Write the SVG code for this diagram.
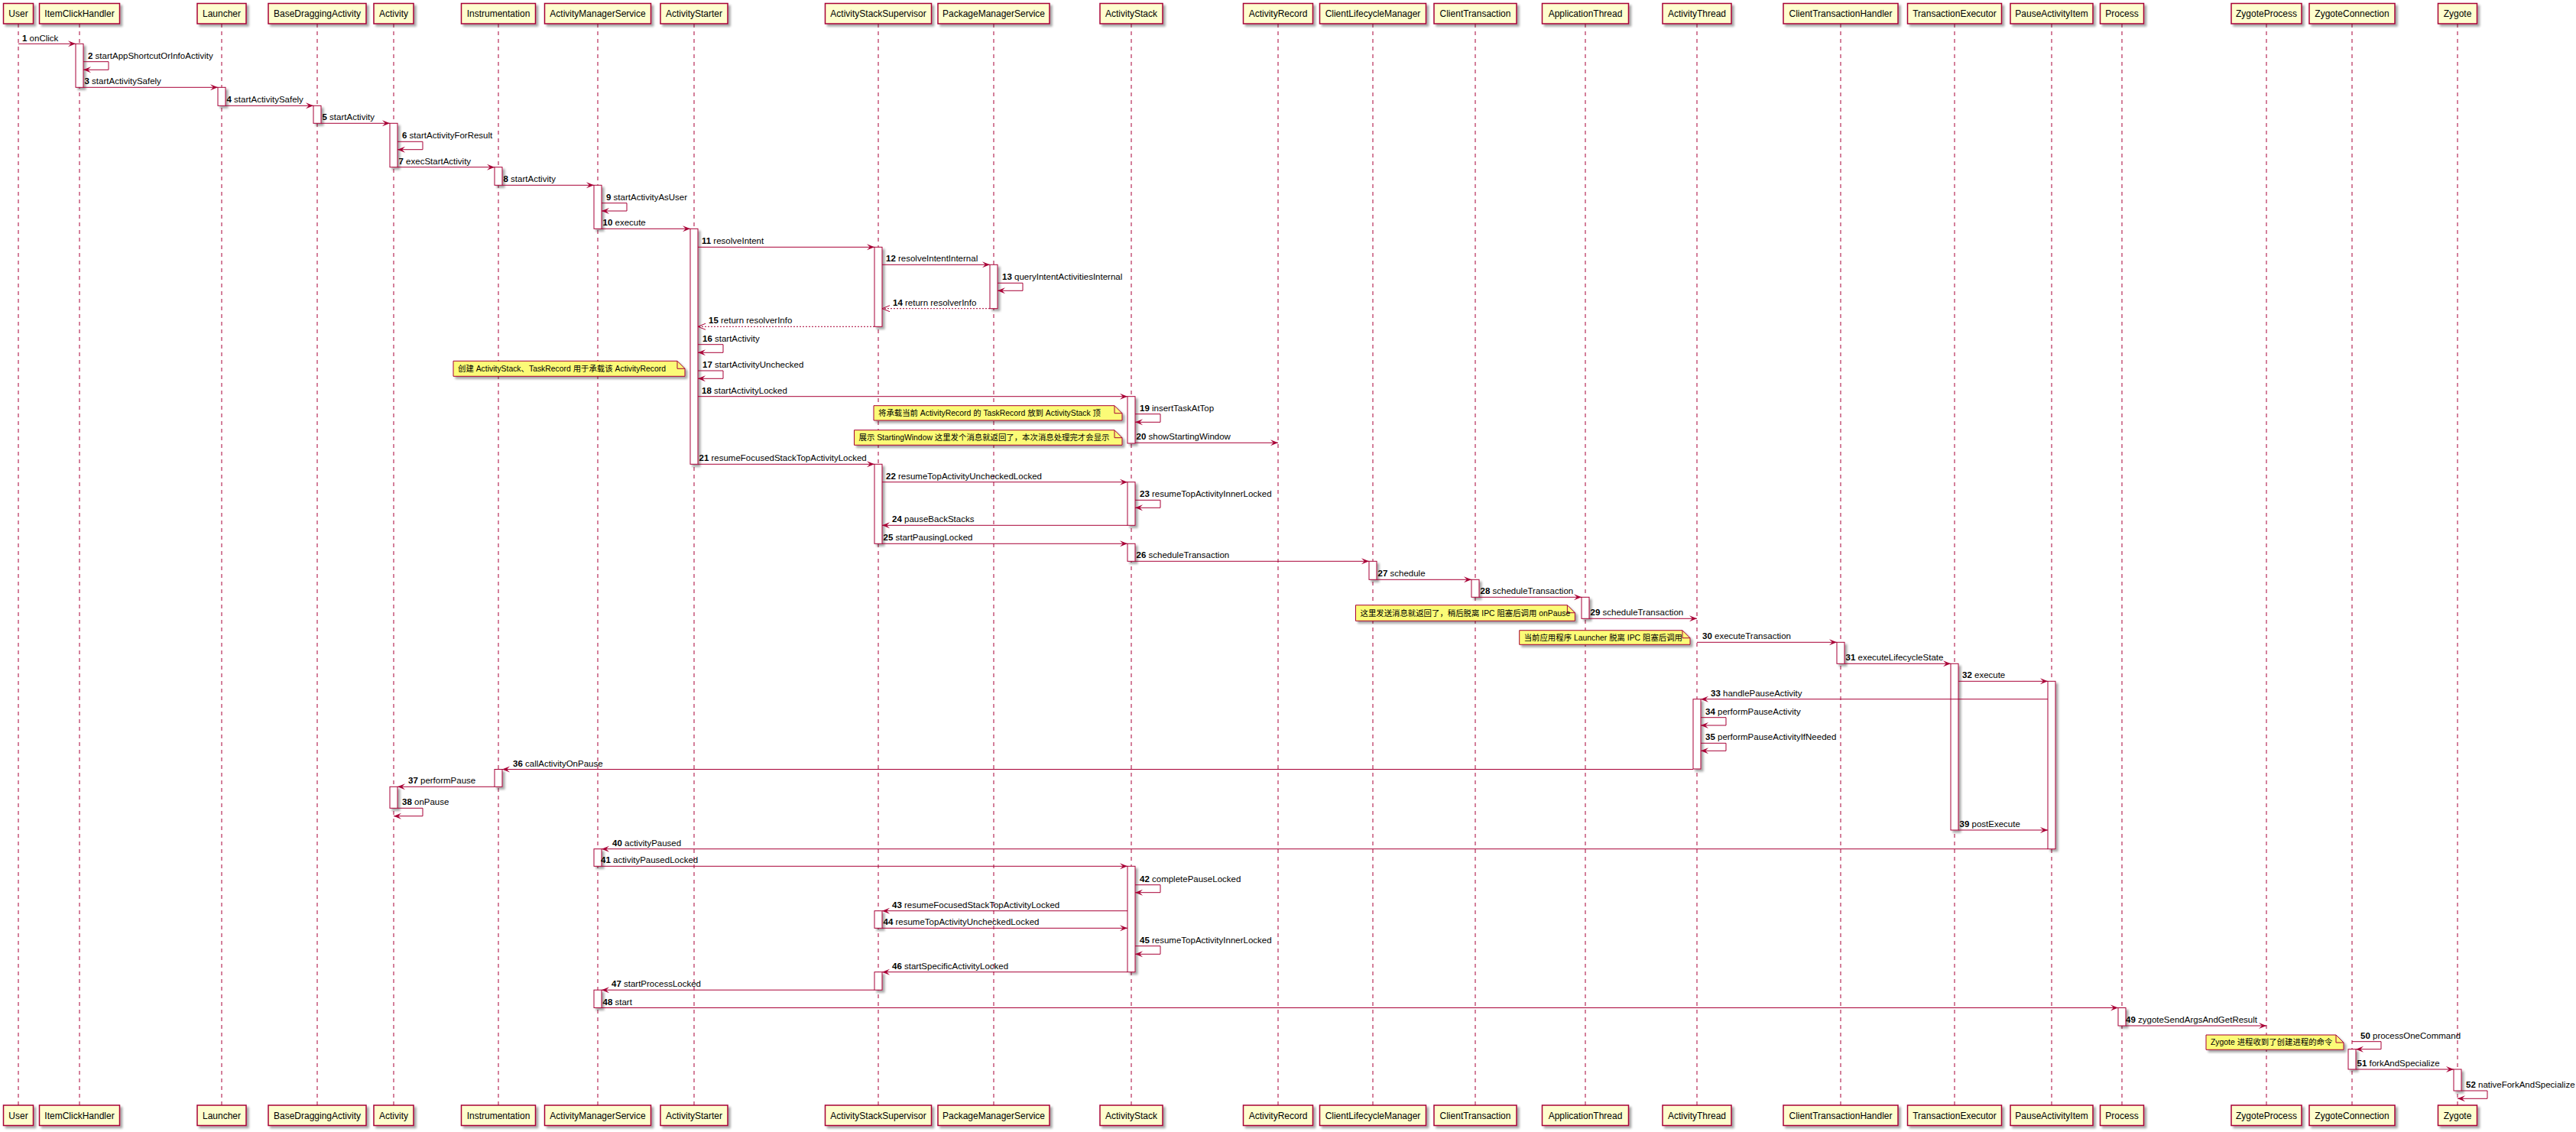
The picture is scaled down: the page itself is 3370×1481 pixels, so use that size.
<svg xmlns="http://www.w3.org/2000/svg" width="3370" height="1481" viewBox="0 0 3370 1481">
<style>
.bg{fill:#ffffff}
.pbox{fill:#FEFECE;stroke:#A80036;stroke-width:1.5;filter:url(#sh)}
.ptext{font-family:"Liberation Sans",Arial,sans-serif;font-size:12px;fill:#000;text-anchor:middle}
.life{stroke:#A80036;stroke-width:1;stroke-dasharray:5,5;fill:none}
.act{fill:#FFFFFF;stroke:#A80036;stroke-width:1;filter:url(#sh)}
.msg{stroke:#A80036;stroke-width:1;fill:none;marker-end:url(#ah)}
.ret{stroke:#A80036;stroke-width:1;fill:none;stroke-dasharray:2,2;marker-end:url(#ao)}
.mt{font-family:"Liberation Sans",Arial,sans-serif;font-size:11.5px;fill:#000}
.mt tspan.n{font-weight:bold}
.note{fill:#FBFB77;stroke:#A80036;stroke-width:1;filter:url(#sh)}
.fold{fill:none;stroke:#A80036;stroke-width:1}
.nt{font-family:"Liberation Sans","Noto Sans CJK SC",sans-serif;font-size:10.4px;fill:#000}
</style>
<defs>
<filter id="sh" x="-20%" y="-20%" width="200%" height="200%">
<feGaussianBlur in="SourceAlpha" stdDeviation="1.5"/>
<feOffset dx="3" dy="3" result="o"/>
<feComponentTransfer><feFuncA type="linear" slope="0.35"/></feComponentTransfer>
<feMerge><feMergeNode/><feMergeNode in="SourceGraphic"/></feMerge>
</filter>
<marker id="ah" markerWidth="12" markerHeight="10" refX="10" refY="5" orient="auto" markerUnits="userSpaceOnUse">
<path d="M0,1 L10,5 L0,9 L4,5 Z" fill="#A80036"/>
</marker>
<marker id="ao" markerWidth="12" markerHeight="10" refX="10" refY="5" orient="auto" markerUnits="userSpaceOnUse">
<path d="M0,1 L10,5 L0,9" fill="none" stroke="#A80036" stroke-width="1"/>
</marker>
</defs>
<rect class="bg" x="0" y="0" width="3370" height="1481"/>

<g id="lifelines">
<line class="life" x1="24" y1="31" x2="24" y2="1446"/>
<line class="life" x1="104" y1="31" x2="104" y2="1446"/>
<line class="life" x1="290" y1="31" x2="290" y2="1446"/>
<line class="life" x1="415" y1="31" x2="415" y2="1446"/>
<line class="life" x1="515" y1="31" x2="515" y2="1446"/>
<line class="life" x1="652" y1="31" x2="652" y2="1446"/>
<line class="life" x1="782" y1="31" x2="782" y2="1446"/>
<line class="life" x1="908" y1="31" x2="908" y2="1446"/>
<line class="life" x1="1149" y1="31" x2="1149" y2="1446"/>
<line class="life" x1="1300" y1="31" x2="1300" y2="1446"/>
<line class="life" x1="1480" y1="31" x2="1480" y2="1446"/>
<line class="life" x1="1672" y1="31" x2="1672" y2="1446"/>
<line class="life" x1="1796" y1="31" x2="1796" y2="1446"/>
<line class="life" x1="1930" y1="31" x2="1930" y2="1446"/>
<line class="life" x1="2074" y1="31" x2="2074" y2="1446"/>
<line class="life" x1="2220" y1="31" x2="2220" y2="1446"/>
<line class="life" x1="2408" y1="31" x2="2408" y2="1446"/>
<line class="life" x1="2557" y1="31" x2="2557" y2="1446"/>
<line class="life" x1="2684" y1="31" x2="2684" y2="1446"/>
<line class="life" x1="2776" y1="31" x2="2776" y2="1446"/>
<line class="life" x1="2965" y1="31" x2="2965" y2="1446"/>
<line class="life" x1="3077" y1="31" x2="3077" y2="1446"/>
<line class="life" x1="3215" y1="31" x2="3215" y2="1446"/>
</g>

<g id="p-user"><rect class="pbox" x="4.5" y="4.5" width="39" height="26.5"/><text class="ptext" x="24" y="22">User</text><rect class="pbox" x="4.5" y="1446" width="39" height="26.5"/><text class="ptext" x="24" y="1463.5">User</text></g>
<g id="p-itemclickhandler"><rect class="pbox" x="51.5" y="4.5" width="105" height="26.5"/><text class="ptext" x="104" y="22">ItemClickHandler</text><rect class="pbox" x="51.5" y="1446" width="105" height="26.5"/><text class="ptext" x="104" y="1463.5">ItemClickHandler</text></g>
<g id="p-launcher"><rect class="pbox" x="258" y="4.5" width="64" height="26.5"/><text class="ptext" x="290" y="22">Launcher</text><rect class="pbox" x="258" y="1446" width="64" height="26.5"/><text class="ptext" x="290" y="1463.5">Launcher</text></g>
<g id="p-basedraggingactivity"><rect class="pbox" x="351" y="4.5" width="128" height="26.5"/><text class="ptext" x="415" y="22">BaseDraggingActivity</text><rect class="pbox" x="351" y="1446" width="128" height="26.5"/><text class="ptext" x="415" y="1463.5">BaseDraggingActivity</text></g>
<g id="p-activity"><rect class="pbox" x="489" y="4.5" width="52" height="26.5"/><text class="ptext" x="515" y="22">Activity</text><rect class="pbox" x="489" y="1446" width="52" height="26.5"/><text class="ptext" x="515" y="1463.5">Activity</text></g>
<g id="p-instrumentation"><rect class="pbox" x="603.5" y="4.5" width="97" height="26.5"/><text class="ptext" x="652" y="22">Instrumentation</text><rect class="pbox" x="603.5" y="1446" width="97" height="26.5"/><text class="ptext" x="652" y="1463.5">Instrumentation</text></g>
<g id="p-ams"><rect class="pbox" x="712.5" y="4.5" width="139" height="26.5"/><text class="ptext" x="782" y="22">ActivityManagerService</text><rect class="pbox" x="712.5" y="1446" width="139" height="26.5"/><text class="ptext" x="782" y="1463.5">ActivityManagerService</text></g>
<g id="p-activitystarter"><rect class="pbox" x="864" y="4.5" width="88" height="26.5"/><text class="ptext" x="908" y="22">ActivityStarter</text><rect class="pbox" x="864" y="1446" width="88" height="26.5"/><text class="ptext" x="908" y="1463.5">ActivityStarter</text></g>
<g id="p-ass"><rect class="pbox" x="1079.5" y="4.5" width="139" height="26.5"/><text class="ptext" x="1149" y="22">ActivityStackSupervisor</text><rect class="pbox" x="1079.5" y="1446" width="139" height="26.5"/><text class="ptext" x="1149" y="1463.5">ActivityStackSupervisor</text></g>
<g id="p-pms"><rect class="pbox" x="1227" y="4.5" width="146" height="26.5"/><text class="ptext" x="1300" y="22">PackageManagerService</text><rect class="pbox" x="1227" y="1446" width="146" height="26.5"/><text class="ptext" x="1300" y="1463.5">PackageManagerService</text></g>
<g id="p-activitystack"><rect class="pbox" x="1439" y="4.5" width="82" height="26.5"/><text class="ptext" x="1480" y="22">ActivityStack</text><rect class="pbox" x="1439" y="1446" width="82" height="26.5"/><text class="ptext" x="1480" y="1463.5">ActivityStack</text></g>
<g id="p-activityrecord"><rect class="pbox" x="1626.5" y="4.5" width="91" height="26.5"/><text class="ptext" x="1672" y="22">ActivityRecord</text><rect class="pbox" x="1626.5" y="1446" width="91" height="26.5"/><text class="ptext" x="1672" y="1463.5">ActivityRecord</text></g>
<g id="p-clm"><rect class="pbox" x="1726.5" y="4.5" width="139" height="26.5"/><text class="ptext" x="1796" y="22">ClientLifecycleManager</text><rect class="pbox" x="1726.5" y="1446" width="139" height="26.5"/><text class="ptext" x="1796" y="1463.5">ClientLifecycleManager</text></g>
<g id="p-clienttransaction"><rect class="pbox" x="1876" y="4.5" width="108" height="26.5"/><text class="ptext" x="1930" y="22">ClientTransaction</text><rect class="pbox" x="1876" y="1446" width="108" height="26.5"/><text class="ptext" x="1930" y="1463.5">ClientTransaction</text></g>
<g id="p-applicationthread"><rect class="pbox" x="2017.5" y="4.5" width="113" height="26.5"/><text class="ptext" x="2074" y="22">ApplicationThread</text><rect class="pbox" x="2017.5" y="1446" width="113" height="26.5"/><text class="ptext" x="2074" y="1463.5">ApplicationThread</text></g>
<g id="p-activitythread"><rect class="pbox" x="2175" y="4.5" width="90" height="26.5"/><text class="ptext" x="2220" y="22">ActivityThread</text><rect class="pbox" x="2175" y="1446" width="90" height="26.5"/><text class="ptext" x="2220" y="1463.5">ActivityThread</text></g>
<g id="p-cth"><rect class="pbox" x="2333" y="4.5" width="150" height="26.5"/><text class="ptext" x="2408" y="22">ClientTransactionHandler</text><rect class="pbox" x="2333" y="1446" width="150" height="26.5"/><text class="ptext" x="2408" y="1463.5">ClientTransactionHandler</text></g>
<g id="p-te"><rect class="pbox" x="2495.5" y="4.5" width="123" height="26.5"/><text class="ptext" x="2557" y="22">TransactionExecutor</text><rect class="pbox" x="2495.5" y="1446" width="123" height="26.5"/><text class="ptext" x="2557" y="1463.5">TransactionExecutor</text></g>
<g id="p-pai"><rect class="pbox" x="2630" y="4.5" width="108" height="26.5"/><text class="ptext" x="2684" y="22">PauseActivityItem</text><rect class="pbox" x="2630" y="1446" width="108" height="26.5"/><text class="ptext" x="2684" y="1463.5">PauseActivityItem</text></g>
<g id="p-process"><rect class="pbox" x="2747.5" y="4.5" width="57" height="26.5"/><text class="ptext" x="2776" y="22">Process</text><rect class="pbox" x="2747.5" y="1446" width="57" height="26.5"/><text class="ptext" x="2776" y="1463.5">Process</text></g>
<g id="p-zygoteprocess"><rect class="pbox" x="2919" y="4.5" width="92" height="26.5"/><text class="ptext" x="2965" y="22">ZygoteProcess</text><rect class="pbox" x="2919" y="1446" width="92" height="26.5"/><text class="ptext" x="2965" y="1463.5">ZygoteProcess</text></g>
<g id="p-zygoteconnection"><rect class="pbox" x="3021" y="4.5" width="112" height="26.5"/><text class="ptext" x="3077" y="22">ZygoteConnection</text><rect class="pbox" x="3021" y="1446" width="112" height="26.5"/><text class="ptext" x="3077" y="1463.5">ZygoteConnection</text></g>
<g id="p-zygote"><rect class="pbox" x="3189.5" y="4.5" width="51" height="26.5"/><text class="ptext" x="3215" y="22">Zygote</text><rect class="pbox" x="3189.5" y="1446" width="51" height="26.5"/><text class="ptext" x="3215" y="1463.5">Zygote</text></g>

<g id="activations">
<rect class="act" x="99" y="57.3" width="10" height="57"/>
<rect class="act" x="285" y="114.3" width="10" height="24"/>
<rect class="act" x="410" y="138.3" width="10" height="23"/>
<rect class="act" x="510" y="161.3" width="10" height="57.4"/>
<rect class="act" x="647" y="218.7" width="10" height="23.6"/>
<rect class="act" x="777" y="242.3" width="10" height="57"/>
<rect class="act" x="903" y="299.3" width="10" height="308"/>
<rect class="act" x="1144" y="323.3" width="10" height="104"/>
<rect class="act" x="1295" y="346.3" width="10" height="57.4"/>
<rect class="act" x="1475" y="518.7" width="10" height="61.3"/>
<rect class="act" x="1144" y="607.3" width="10" height="104"/>
<rect class="act" x="1475" y="630.7" width="10" height="56.6"/>
<rect class="act" x="1475" y="711.3" width="10" height="23"/>
<rect class="act" x="1791" y="734.3" width="10" height="24"/>
<rect class="act" x="1925" y="758.3" width="10" height="23"/>
<rect class="act" x="2069" y="781.3" width="10" height="28"/>
<rect class="act" x="2403" y="840.3" width="10" height="28"/>
<rect class="act" x="2552" y="868.3" width="10" height="217.7"/>
<rect class="act" x="2679" y="891.3" width="10" height="219.4"/>
<rect class="act" x="2215" y="914.7" width="10" height="91.3"/>
<rect class="act" x="647" y="1006.5" width="10" height="22.8"/>
<rect class="act" x="510" y="1029.3" width="10" height="28"/>
<rect class="act" x="777" y="1110.7" width="10" height="22.6"/>
<rect class="act" x="1475" y="1133.3" width="10" height="138.4"/>
<rect class="act" x="1144" y="1191.7" width="10" height="22.6"/>
<rect class="act" x="1144" y="1271.7" width="10" height="23.5"/>
<rect class="act" x="777" y="1295.2" width="10" height="23.3"/>
<rect class="act" x="2771" y="1318.5" width="10" height="23.5"/>
<rect class="act" x="3072" y="1372.7" width="10" height="26.3"/>
<rect class="act" x="3210" y="1399" width="10" height="28"/>
</g>

<g id="notes">
<g id="note1"><path class="note" d="M593,472.3 H886 L896,482.3 V492.3 H593 Z"/><path class="fold" d="M886,472.3 V482.3 H896"/><text class="nt" x="599" y="486">创建 ActivityStack、TaskRecord 用于承载该 ActivityRecord</text></g>
<g id="note2"><path class="note" d="M1143,530.7 H1458 L1468,540.7 V550 H1143 Z"/><path class="fold" d="M1458,530.7 V540.7 H1468"/><text class="nt" x="1149" y="544.2">将承载当前 ActivityRecord 的 TaskRecord 放到 ActivityStack 顶</text></g>
<g id="note3"><path class="note" d="M1117.5,562.7 H1458 L1468,572.7 V582.3 H1117.5 Z"/><path class="fold" d="M1458,562.7 V572.7 H1468"/><text class="nt" x="1123.5" y="576.3">展示 StartingWindow 这里发个消息就返回了，本次消息处理完才会显示</text></g>
<g id="note4"><path class="note" d="M1773.5,791.7 H2050.4 L2060.4,801.7 V812.3 H1773.5 Z"/><path class="fold" d="M2050.4,791.7 V801.7 H2060.4"/><text class="nt" x="1779.5" y="805.8">这里发送消息就返回了，稍后脱离 IPC 阻塞后调用 onPause</text></g>
<g id="note5"><path class="note" d="M1987.7,824.7 H2201 L2211,834.7 V843.3 H1987.7 Z"/><path class="fold" d="M2201,824.7 V834.7 H2211"/><text class="nt" x="1993.7" y="837.8">当前应用程序 Launcher 脱离 IPC 阻塞后调用</text></g>
<g id="note6"><path class="note" d="M2886,1354 H3056 L3066,1364 V1373.3 H2886 Z"/><path class="fold" d="M3056,1354 V1364 H3066"/><text class="nt" x="2892" y="1367.4">Zygote 进程收到了创建进程的命令</text></g>
</g>

<g id="connectors">
<line class="msg" x1="24" y1="57.3" x2="99" y2="57.3"/><text class="mt" x="29" y="53.5"><tspan class="n">1</tspan> onClick</text>
<path class="msg" d="M109,80.7 H142 V91.3 H109"/><text class="mt" x="115" y="76.7"><tspan class="n">2</tspan> startAppShortcutOrInfoActivity</text>
<line class="msg" x1="109" y1="114.3" x2="285" y2="114.3"/><text class="mt" x="110.5" y="110.3"><tspan class="n">3</tspan> startActivitySafely</text>
<line class="msg" x1="295" y1="138.3" x2="410" y2="138.3"/><text class="mt" x="296.5" y="134.3"><tspan class="n">4</tspan> startActivitySafely</text>
<line class="msg" x1="420" y1="161.3" x2="510" y2="161.3"/><text class="mt" x="421.5" y="157.3"><tspan class="n">5</tspan> startActivity</text>
<path class="msg" d="M520,185.3 H553 V195.7 H520"/><text class="mt" x="526" y="181.3"><tspan class="n">6</tspan> startActivityForResult</text>
<line class="msg" x1="520" y1="218.7" x2="647" y2="218.7"/><text class="mt" x="521.5" y="214.7"><tspan class="n">7</tspan> execStartActivity</text>
<line class="msg" x1="657" y1="242.3" x2="777" y2="242.3"/><text class="mt" x="658.5" y="238.3"><tspan class="n">8</tspan> startActivity</text>
<path class="msg" d="M787,265.7 H820 V276 H787"/><text class="mt" x="793" y="261.7"><tspan class="n">9</tspan> startActivityAsUser</text>
<line class="msg" x1="787" y1="299.3" x2="903" y2="299.3"/><text class="mt" x="788.5" y="295.3"><tspan class="n">10</tspan> execute</text>
<line class="msg" x1="913" y1="323.3" x2="1144" y2="323.3"/><text class="mt" x="918" y="319.3"><tspan class="n">11</tspan> resolveIntent</text>
<line class="msg" x1="1154" y1="346.3" x2="1295" y2="346.3"/><text class="mt" x="1159" y="342.3"><tspan class="n">12</tspan> resolveIntentInternal</text>
<path class="msg" d="M1305,370.3 H1338 V380.3 H1305"/><text class="mt" x="1311" y="366.3"><tspan class="n">13</tspan> queryIntentActivitiesInternal</text>
<line class="ret" x1="1295" y1="403.7" x2="1154" y2="403.7"/><text class="mt" x="1168" y="399.7"><tspan class="n">14</tspan> return resolverInfo</text>
<line class="ret" x1="1144" y1="427.3" x2="913" y2="427.3"/><text class="mt" x="927" y="423.3"><tspan class="n">15</tspan> return resolverInfo</text>
<path class="msg" d="M913,450.7 H946 V461.3 H913"/><text class="mt" x="919" y="446.7"><tspan class="n">16</tspan> startActivity</text>
<path class="msg" d="M913,485 H946 V495.3 H913"/><text class="mt" x="919" y="481"><tspan class="n">17</tspan> startActivityUnchecked</text>
<line class="msg" x1="913" y1="518.7" x2="1475" y2="518.7"/><text class="mt" x="918" y="514.7"><tspan class="n">18</tspan> startActivityLocked</text>
<path class="msg" d="M1485,541.7 H1518 V552.3 H1485"/><text class="mt" x="1491" y="537.7"><tspan class="n">19</tspan> insertTaskAtTop</text>
<line class="msg" x1="1485" y1="579.3" x2="1672" y2="579.3"/><text class="mt" x="1486.5" y="575.3"><tspan class="n">20</tspan> showStartingWindow</text>
<line class="msg" x1="913" y1="607.3" x2="1144" y2="607.3"/><text class="mt" x="914.5" y="603.3"><tspan class="n">21</tspan> resumeFocusedStackTopActivityLocked</text>
<line class="msg" x1="1154" y1="630.7" x2="1475" y2="630.7"/><text class="mt" x="1159" y="626.7"><tspan class="n">22</tspan> resumeTopActivityUncheckedLocked</text>
<path class="msg" d="M1485,654.3 H1518 V664.3 H1485"/><text class="mt" x="1491" y="650.3"><tspan class="n">23</tspan> resumeTopActivityInnerLocked</text>
<line class="msg" x1="1475" y1="687.3" x2="1154" y2="687.3"/><text class="mt" x="1167" y="683.3"><tspan class="n">24</tspan> pauseBackStacks</text>
<line class="msg" x1="1154" y1="711.3" x2="1475" y2="711.3"/><text class="mt" x="1155.5" y="707.3"><tspan class="n">25</tspan> startPausingLocked</text>
<line class="msg" x1="1485" y1="734.3" x2="1791" y2="734.3"/><text class="mt" x="1486.5" y="730.3"><tspan class="n">26</tspan> scheduleTransaction</text>
<line class="msg" x1="1801" y1="758.3" x2="1925" y2="758.3"/><text class="mt" x="1802.5" y="754.3"><tspan class="n">27</tspan> schedule</text>
<line class="msg" x1="1935" y1="781.3" x2="2069" y2="781.3"/><text class="mt" x="1936.5" y="777.3"><tspan class="n">28</tspan> scheduleTransaction</text>
<line class="msg" x1="2079" y1="809.3" x2="2220" y2="809.3"/><text class="mt" x="2080.5" y="805.3"><tspan class="n">29</tspan> scheduleTransaction</text>
<line class="msg" x1="2220" y1="840.3" x2="2403" y2="840.3"/><text class="mt" x="2227" y="836.3"><tspan class="n">30</tspan> executeTransaction</text>
<line class="msg" x1="2413" y1="868.3" x2="2552" y2="868.3"/><text class="mt" x="2414.5" y="864.3"><tspan class="n">31</tspan> executeLifecycleState</text>
<line class="msg" x1="2562" y1="891.3" x2="2679" y2="891.3"/><text class="mt" x="2567" y="887.3"><tspan class="n">32</tspan> execute</text>
<line class="msg" x1="2679" y1="914.7" x2="2225" y2="914.7"/><text class="mt" x="2238" y="910.7"><tspan class="n">33</tspan> handlePauseActivity</text>
<path class="msg" d="M2225,938.7 H2258 V949 H2225"/><text class="mt" x="2231" y="934.7"><tspan class="n">34</tspan> performPauseActivity</text>
<path class="msg" d="M2225,972.3 H2258 V982.3 H2225"/><text class="mt" x="2231" y="968.3"><tspan class="n">35</tspan> performPauseActivityIfNeeded</text>
<line class="msg" x1="2215" y1="1006.5" x2="657" y2="1006.5"/><text class="mt" x="671" y="1002.5"><tspan class="n">36</tspan> callActivityOnPause</text>
<line class="msg" x1="647" y1="1029.3" x2="520" y2="1029.3"/><text class="mt" x="534" y="1025.3"><tspan class="n">37</tspan> performPause</text>
<path class="msg" d="M520,1057.3 H553 V1067.7 H515"/><text class="mt" x="526" y="1053.3"><tspan class="n">38</tspan> onPause</text>
<line class="msg" x1="2562" y1="1086" x2="2679" y2="1086"/><text class="mt" x="2563.5" y="1082"><tspan class="n">39</tspan> postExecute</text>
<line class="msg" x1="2679" y1="1110.7" x2="787" y2="1110.7"/><text class="mt" x="801" y="1106.7"><tspan class="n">40</tspan> activityPaused</text>
<line class="msg" x1="787" y1="1133.3" x2="1475" y2="1133.3"/><text class="mt" x="786" y="1129.3"><tspan class="n">41</tspan> activityPausedLocked</text>
<path class="msg" d="M1485,1157.7 H1518 V1167.7 H1485"/><text class="mt" x="1491" y="1153.7"><tspan class="n">42</tspan> completePauseLocked</text>
<line class="msg" x1="1475" y1="1191.7" x2="1154" y2="1191.7"/><text class="mt" x="1167" y="1187.7"><tspan class="n">43</tspan> resumeFocusedStackTopActivityLocked</text>
<line class="msg" x1="1154" y1="1214.3" x2="1475" y2="1214.3"/><text class="mt" x="1155.5" y="1210.3"><tspan class="n">44</tspan> resumeTopActivityUncheckedLocked</text>
<path class="msg" d="M1485,1237.7 H1518 V1248.3 H1485"/><text class="mt" x="1491" y="1233.7"><tspan class="n">45</tspan> resumeTopActivityInnerLocked</text>
<line class="msg" x1="1475" y1="1271.7" x2="1154" y2="1271.7"/><text class="mt" x="1167" y="1267.7"><tspan class="n">46</tspan> startSpecificActivityLocked</text>
<line class="msg" x1="1144" y1="1295.2" x2="787" y2="1295.2"/><text class="mt" x="800" y="1291.2"><tspan class="n">47</tspan> startProcessLocked</text>
<line class="msg" x1="787" y1="1318.5" x2="2771" y2="1318.5"/><text class="mt" x="788.5" y="1314.5"><tspan class="n">48</tspan> start</text>
<line class="msg" x1="2781" y1="1342" x2="2965" y2="1342"/><text class="mt" x="2781" y="1338"><tspan class="n">49</tspan> zygoteSendArgsAndGetResult</text>
<path class="msg" d="M3077,1362.7 H3115 V1372.7 H3082"/><text class="mt" x="3088" y="1358.7"><tspan class="n">50</tspan> processOneCommand</text>
<line class="msg" x1="3082" y1="1399" x2="3210" y2="1399"/><text class="mt" x="3083.5" y="1395"><tspan class="n">51</tspan> forkAndSpecialize</text>
<path class="msg" d="M3220,1427 H3254 V1437.3 H3215"/><text class="mt" x="3226" y="1423"><tspan class="n">52</tspan> nativeForkAndSpecialize</text>
</g>
</svg>
